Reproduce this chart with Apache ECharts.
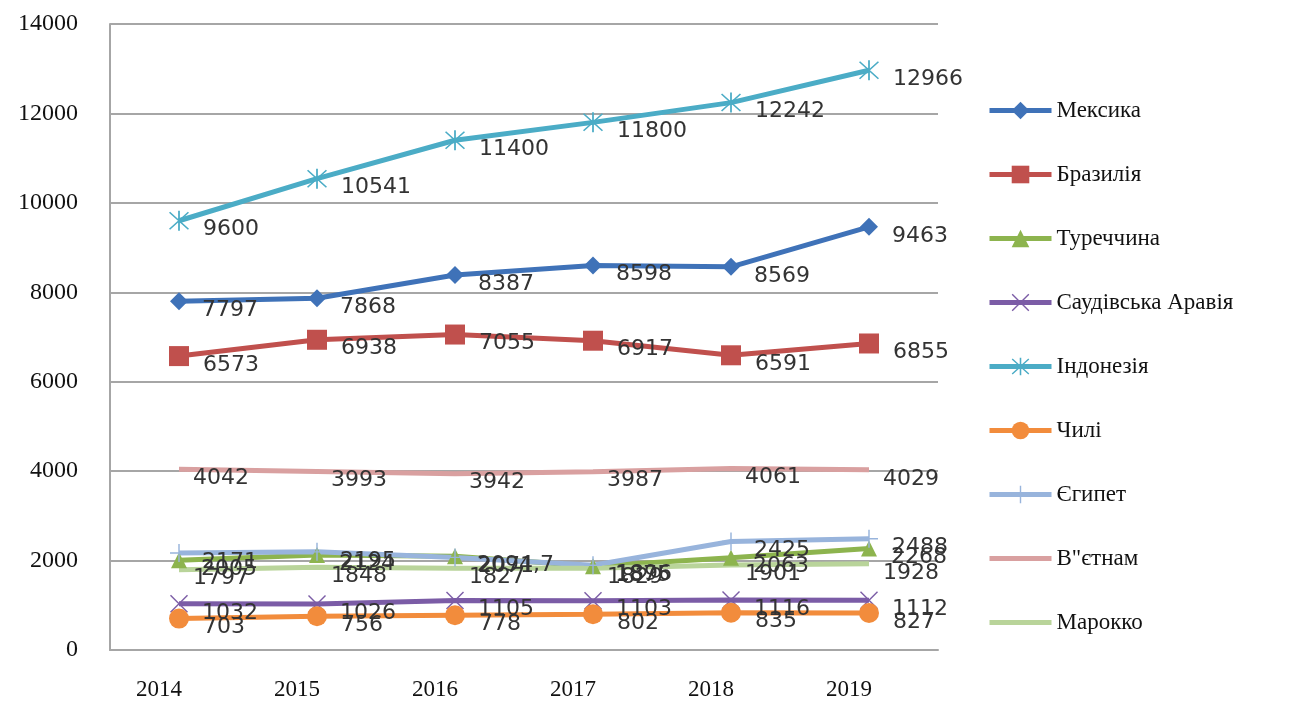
<!DOCTYPE html>
<html><head><meta charset="utf-8">
<script src="https://cdn.jsdelivr.net/npm/echarts@6/dist/echarts.min.js"></script>
<style>html,body{margin:0;padding:0;background:#fff}#c{width:1289px;height:704px}</style>
</head><body><div id="c"></div>
<script>
const years = ['2014','2015','2016','2017','2018','2019'];
const yTicks = [0, 2000, 4000, 6000, 8000, 10000, 12000, 14000];
const mexico   = [7797, 7868, 8387, 8598, 8569, 9463];
const brazil   = [6573, 6938, 7055, 6917, 6591, 6855];
const turkey   = [2005, 2124, 2094.7, 1875, 2063, 2268];
const saudi    = [1032, 1026, 1105, 1103, 1116, 1112];
const indonesia= [9600, 10541, 11400, 11800, 12242, 12966];
const chile    = [703, 756, 778, 802, 835, 827];
const egypt    = [2171, 2195, 2071, 1896, 2425, 2488];
const vietnam  = [4042, 3993, 3942, 3987, 4061, 4029];
const morocco  = [1797, 1848, 1827, 1829, 1901, 1928];

const P_X = 'path://M1 2L2 1L19 18L18 19Z M18 1L19 2L2 19L1 18Z';
const P_AST = 'path://M9.2 0H10.8V20H9.2Z M1 2L2 1L19 18L18 19Z M18 1L19 2L2 19L1 18Z';
const P_PLUS = 'path://M9.2 0H10.8V20H9.2Z M0 9.2H20V10.8H0Z';

const labelBase = {
  show: true, position: 'right', distance: 14, offset: [0, 9],
  color: '#333', fontFamily: 'DejaVu Sans', fontSize: 22,
  formatter: p => String(p.value).replace('.', ',')
};
function mk(name, data, color, symbol, size) {
  return {
    name, type: 'line', data,
    symbol, symbolSize: size, showSymbol: true,
    lineStyle: { color, width: 5 },
    itemStyle: { color },
    label: labelBase,
    emphasis: { disabled: true },
    animation: false, z: 2
  };
}
const series = [
  mk('Мексика', mexico, '#3F72B8', 'diamond', 18),
  mk('Бразилія', brazil, '#C0504D', 'rect', 20),
  mk('Туреччина', turkey, '#8DB44E', 'triangle', 16),
  mk('Саудівська Аравія', saudi, '#7B5CA6', P_X, 18),
  mk('Індонезія', indonesia, '#4BACC6', P_AST, 20),
  mk('Чилі', chile, '#F28C3C', 'circle', 20),
  mk('Єгипет', egypt, '#98B4DC', P_PLUS, 18),
  mk('В"єтнам', vietnam, '#D9A0A0', 'circle', 0.1),
  mk('Марокко', morocco, '#B9D49A', 'circle', 0.1)
];
const legendData = series.map(s => (s.symbolSize < 1 ? { name: s.name, itemStyle: { opacity: 0 } } : { name: s.name }));

const chart = echarts.init(document.getElementById('c'));
chart.setOption({
  animation: false,
  grid: { left: 110, right: 351, top: 24, bottom: 54 },
  legend: {
    orient: 'vertical', left: 982, top: 94,
    itemWidth: 62, itemHeight: 22, itemGap: 41,
    itemTextGap: 4,
    data: legendData,
    lineStyle: { width: 5 },
    textStyle: { fontFamily: 'Liberation Serif', fontSize: 23, color: '#111' }
  },
  xAxis: {
    type: 'category', data: years, boundaryGap: true,
    axisLine: { lineStyle: { color: '#A6A6A6', width: 2 } },
    axisTick: { show: false },
    axisLabel: { margin: 28, fontFamily: 'Liberation Serif', fontSize: 23, color: '#111', padding: [0, 40, 0, 0] }
  },
  yAxis: {
    type: 'value', min: yTicks[0], max: yTicks[yTicks.length - 1], interval: 2000,
    axisLine: { show: true, lineStyle: { color: '#A6A6A6', width: 2 } },
    axisTick: { show: false },
    splitLine: { lineStyle: { color: '#A6A6A6', width: 2 } },
    axisLabel: { margin: 32, fontFamily: 'Liberation Serif', fontSize: 24, color: '#111', formatter: v => String(v) }
  },
  series
});
</script></body></html>
